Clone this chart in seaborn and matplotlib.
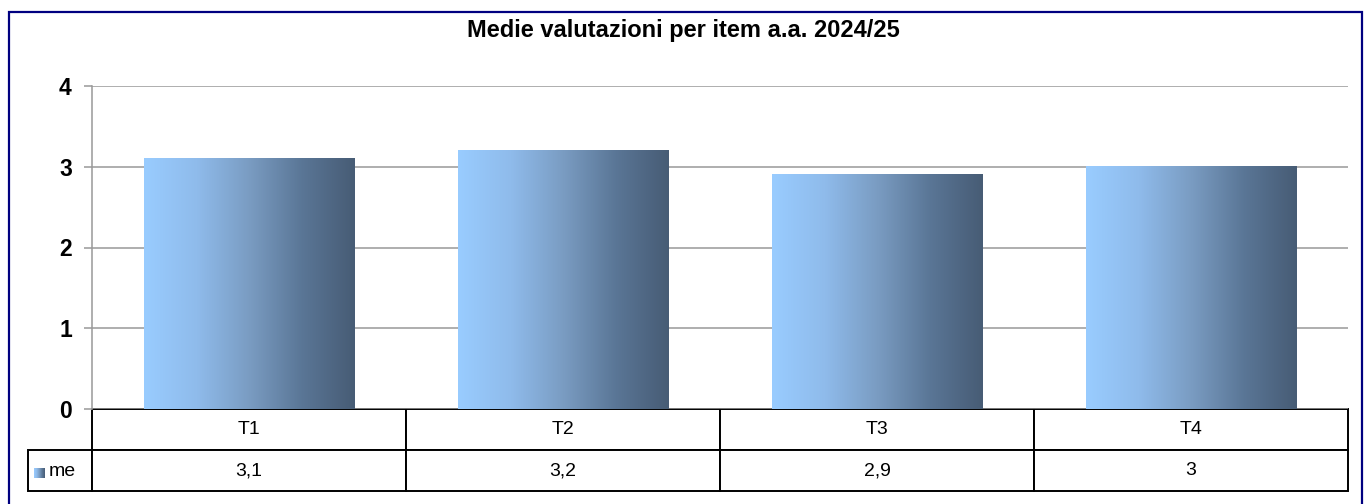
import seaborn as sns
import numpy as np
import pandas as pd
import matplotlib
matplotlib.use('Agg')
import matplotlib.pyplot as plt
from matplotlib.colors import LinearSegmentedColormap
from matplotlib.patches import Rectangle

# data
items = ['T1', 'T2', 'T3', 'T4']
means = [3.1, 3.2, 2.9, 3.0]
mean_labels = ['3,1', '3,2', '2,9', '3']
series_name = 'me'
title = 'Medie valutazioni per item a.a. 2024/25'

sns.set_style('white')
plt.rcParams['font.family'] = ['Liberation Sans', 'DejaVu Sans']
plt.rcParams['text.color'] = 'black'
plt.rcParams['ytick.labelcolor'] = 'black'

W, H = 1367, 504
fig = plt.figure(figsize=(W / 100, H / 100), dpi=100)
ax = fig.add_axes([92 / W, (H - 409) / H, (1348 - 92) / W, (409 - 86) / H])

df = pd.DataFrame({'item': items, 'media': means})
sns.barplot(data=df, x='item', y='media', width=0.67, color='#99CCFF', ax=ax)

# horizontal gradient like the original office chart
grad = LinearSegmentedColormap.from_list(
    'bar', ['#99CCFF', '#8FBBEB', '#7A9CC2', '#5A7696', '#475C75'])
ramp = np.linspace(0, 1, 256).reshape(1, -1)
for p in ax.patches:
    x0, w, h = p.get_x(), p.get_width(), p.get_height()
    ax.imshow(ramp, cmap=grad, aspect='auto', extent=[x0, x0 + w, 0, h],
              interpolation='bilinear', zorder=2)
    p.set_visible(False)

ax.set_xlim(-0.5, len(items) - 0.5)
ax.set_ylim(0, 4)
ax.set_yticks(range(0, 5))
ax.set_yticklabels([str(i) for i in range(0, 5)], fontsize=16.5,
                   fontweight='bold', color='black')
ax.set_xticks([])
ax.set_xlabel('')
ax.set_ylabel('')
ax.grid(axis='y', color='#999999', linewidth=1.1, zorder=0)
ax.set_axisbelow(True)
for s in ['top', 'right', 'bottom']:
    ax.spines[s].set_visible(False)
ax.spines['left'].set_color('#999999')
ax.spines['left'].set_linewidth(1.1)
ax.tick_params(axis='y', length=6, width=1.1, color='#999999', pad=8.5, left=True)

# data table under the plot (first column holds the series key)
lab_w = 64 / 1256
tab_h = 82 / 323
tbl = ax.table(cellText=[[''] + items, [''] + mean_labels],
               colWidths=[lab_w] + [1 / len(items)] * len(items),
               cellLoc='center', bbox=[-lab_w, -tab_h, 1 + lab_w, tab_h])
tbl.auto_set_font_size(False)
tbl.set_fontsize(14)
for (r, c), cell in tbl.get_celld().items():
    cell.set_edgecolor('black')
    cell.set_linewidth(1.4)
    cell.get_text().set_color('black')
tbl[0, 0].visible_edges = ''
tbl[0, 0].set_fill(False)

# legend key inside the table
key = fig.add_axes([34 / W, (H - 478) / H, 11 / W, 10 / H])
key.imshow(ramp, cmap=grad, aspect='auto', interpolation='bilinear')
key.axis('off')
fig.text(49 / W, 1 - 472 / H, series_name, fontsize=14, va='center', ha='left')

fig.text(0.5, 1 - 31 / H, title, fontsize=17, fontweight='bold',
         ha='center', va='center')

# outer frame
fig.patches.append(Rectangle((8.5 / W, -0.1), (1362 - 8.5) / W, 1.1 - 12.5 / H,
                             transform=fig.transFigure, fill=False,
                             edgecolor='#000080', linewidth=1.6))

fig.savefig('out.png', dpi=100)
